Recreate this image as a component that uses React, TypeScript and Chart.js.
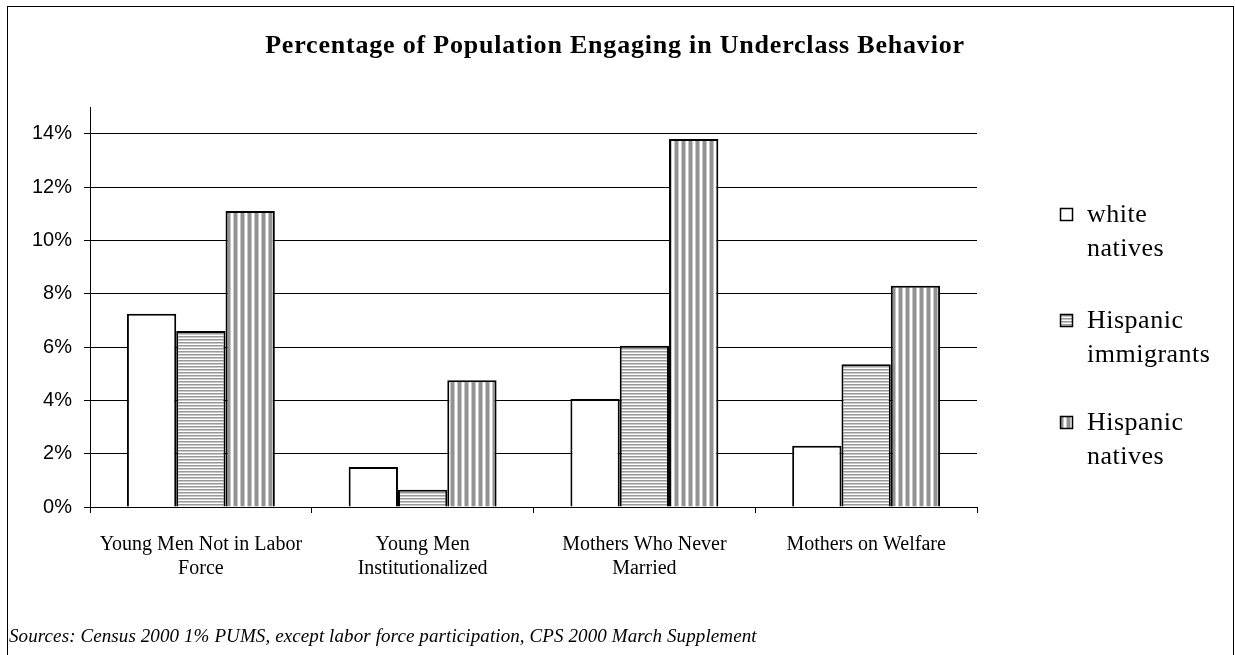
import React, { useEffect, useRef } from "react";
import { Chart, registerables } from "chart.js";

Chart.register(...registerables);

const categories: string[][] = [
  ["Young Men Not in Labor", "Force"],
  ["Young Men", "Institutionalized"],
  ["Mothers Who Never", "Married"],
  ["Mothers on Welfare"],
];
const whiteNatives = [7.25, 1.5, 4.05, 2.3];
const hispanicImmigrants = [6.6, 0.65, 6.05, 5.35];
const hispanicNatives = [11.1, 4.75, 13.8, 8.3];
const seriesLabels: string[][] = [
  ["white", "natives"],
  ["Hispanic", "immigrants"],
  ["Hispanic", "natives"],
];
const yMax = 15;
const yStep = 2;
const yTickMax = 14;
const titleText = "Percentage of Population Engaging in Underclass Behavior";
const sourceText =
  "Sources: Census 2000 1% PUMS, except labor force participation, CPS 2000 March Supplement";

const W = 1235;
const H = 655;

function makePattern(ctx: CanvasRenderingContext2D, colors: string[], vertical: boolean) {
  const c = document.createElement("canvas");
  c.width = vertical ? colors.length : 4;
  c.height = vertical ? 4 : colors.length;
  const pc = c.getContext("2d")!;
  colors.forEach((col, i) => {
    pc.fillStyle = col;
    if (vertical) pc.fillRect(i, 0, 1, 4);
    else pc.fillRect(0, i, 4, 1);
  });
  return ctx.createPattern(c, "repeat") as CanvasPattern;
}

export default function App() {
  const ref = useRef<HTMLCanvasElement>(null);

  useEffect(() => {
    const canvas = ref.current!;
    const ctx = canvas.getContext("2d")!;
    const horiz = makePattern(ctx, ["#999999", "#c8c8c8", "#ffffff"], false);
    const vert = makePattern(
      ctx,
      ["#ffffff", "#ffffff", "#c8c8c8", "#929292", "#929292", "#929292", "#c8c8c8"],
      true
    );
    const fills: (string | CanvasPattern)[] = ["#ffffff", horiz, vert];

    const framePlugin = {
      id: "frame",
      beforeDraw(chart: any) {
        const c = chart.ctx;
        c.save();
        c.fillStyle = "#ffffff";
        c.fillRect(0, 0, W, H);
        c.restore();
      },
      afterDraw(chart: any) {
        const c = chart.ctx as any;
        c.save();
        c.strokeStyle = "#000000";
        c.lineWidth = 1;
        c.strokeRect(7.5, 6.5, 1226, 700);
        // title
        c.fillStyle = "#000000";
        c.font = "bold 26px 'Liberation Serif'";
        c.letterSpacing = "0.8px";
        c.textAlign = "center";
        c.textBaseline = "alphabetic";
        c.fillText(titleText, 615, 53);
        // source
        c.font = "italic 19px 'Liberation Serif'";
        c.letterSpacing = "0.1px";
        c.textAlign = "left";
        c.fillText(sourceText, 9, 642);
        // legend
        const baselines = [222, 328, 430];
        seriesLabels.forEach((lines, i) => {
          const b = baselines[i];
          c.fillStyle = fills[i];
          c.fillRect(1060, b - 14, 13, 13);
          c.strokeStyle = "#000000";
          c.lineWidth = 1.5;
          c.strokeRect(1060.5, b - 13.5, 12, 12);
          c.fillStyle = "#000000";
          c.font = "26px 'Liberation Serif'";
          c.letterSpacing = "0.5px";
          c.textAlign = "left";
          lines.forEach((t, j) => c.fillText(t, 1087, b + j * 34));
        });
        c.restore();
      },
    };

    const chart = new Chart(canvas, {
      type: "bar",
      data: {
        labels: categories,
        datasets: [
          { label: "white natives", data: whiteNatives, backgroundColor: fills[0] as any },
          { label: "Hispanic immigrants", data: hispanicImmigrants, backgroundColor: fills[1] as any },
          { label: "Hispanic natives", data: hispanicNatives, backgroundColor: fills[2] as any },
        ],
      },
      options: {
        animation: false,
        responsive: false,
        maintainAspectRatio: false,
        devicePixelRatio: 1,
        layout: { padding: { left: 0, top: 107, right: 258, bottom: 0 } },
        datasets: {
          bar: {
            borderColor: "#000000",
            borderWidth: 2,
            categoryPercentage: 0.667,
            barPercentage: 1.0,
          } as any,
        },
        plugins: {
          legend: { display: false },
          title: { display: false },
          tooltip: { enabled: false },
        },
        scales: {
          x: {
            afterFit: (s: any) => {
              s.height = 148;
            },
            grid: {
              display: true,
              drawOnChartArea: false,
              drawTicks: true,
              tickLength: 6,
              offset: true,
              color: "#000000",
              lineWidth: 1,
            },
            border: { display: true, color: "#000000", width: 1 },
            ticks: {
              color: "#000000",
              font: { family: "'Liberation Serif'", size: 20 },
              maxRotation: 0,
              autoSkip: false,
              padding: 20,
            },
          },
          y: {
            min: 0,
            max: yMax,
            afterFit: (s: any) => {
              s.width = 90;
            },
            afterBuildTicks: (s: any) => {
              s.ticks = s.ticks.filter((t: any) => t.value <= yTickMax);
            },
            grid: {
              color: "#000000",
              lineWidth: 1,
              drawTicks: true,
              tickLength: 6,
            },
            border: { display: true, color: "#000000", width: 1 },
            ticks: {
              stepSize: yStep,
              color: "#000000",
              font: { family: "'Liberation Sans'", size: 20 },
              padding: 12,
              callback: (v: any) => `${v}%`,
            },
          },
        },
      },
      plugins: [framePlugin],
    });
    return () => chart.destroy();
  }, []);

  return (
    <div style={{ position: "fixed", left: 0, top: 0, width: W, height: H, background: "#fff" }}>
      <canvas ref={ref} width={W} height={H} style={{ width: W, height: H, display: "block" }} />
    </div>
  );
}
